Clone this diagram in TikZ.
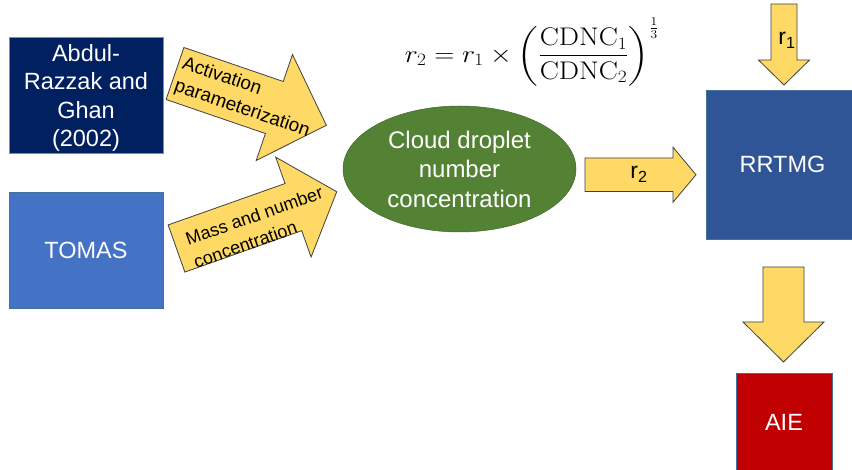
\documentclass[tikz,border=0pt]{standalone}
\usepackage{fontspec}
\usepackage{amsmath}
\newfontfamily\arial{Liberation Sans}
\usetikzlibrary{shapes.geometric}
\definecolor{navybox}{HTML}{002060}
\definecolor{tomasbox}{HTML}{4472C4}
\definecolor{rrtmgbox}{HTML}{2F5597}
\definecolor{aiebox}{HTML}{C00000}
\definecolor{cloudgreen}{HTML}{548235}
\definecolor{arrowfill}{HTML}{FFD966}
\definecolor{arrowline}{HTML}{404040}
\definecolor{boxline}{HTML}{41719C}
\definecolor{grayline}{HTML}{8C8C8C}
\begin{document}
\begin{tikzpicture}[x=1pt,y=1pt,
  box/.style={draw=boxline, line width=0.8pt, text=white, inner sep=0pt, outer sep=0pt,
    font=\arial\fontsize{23.5}{28.3}\selectfont, align=center},
  boxtext/.style={text=white, inner sep=0pt, font=\arial\fontsize{23.5}{28.3}\selectfont, align=center},
  blockarrow/.style={fill=arrowfill, draw=arrowline, line width=0.8pt, line join=miter},
  arrowtext/.style={text=black, inner sep=0pt, align=left, font=\arial\fontsize{19}{24}\selectfont},
  lbl/.style={text=black, inner sep=0pt, font=\arial\fontsize{23}{26}\selectfont}]
\useasboundingbox (0,0) rectangle (852,469);
\fill[white] (0,0) rectangle (852,469);

% left boxes
\node[box, fill=navybox, draw=grayline, minimum width=154, minimum height=116] (abdul) at (86,374) {};
\node[boxtext] (abdultext) at (86,371) {Abdul-\\Razzak and\\Ghan\\(2002)\hspace{6.5pt}};
\node[box, fill=tomasbox, minimum width=154, minimum height=116] (tomas) at (86,219) {TOMAS};

% activation arrow
\begin{scope}[shift={(175,395.5)}, rotate=-18.9]
  \draw[blockarrow] (0,27.5) -- (105,27.5) -- (105,56) -- (160,0) -- (105,-56) -- (105,-27.5) -- (0,-27.5) -- cycle;
  \node[arrowtext, anchor=west, rotate=-18.9] (actlbl) at (4,0) {Activation\\parameterization};
\end{scope}

% mass arrow
\begin{scope}[shift={(176.5,220.5)}, rotate=19.5]
  \draw[blockarrow] (0,25) -- (124,25) -- (124,53) -- (170,0) -- (124,-53) -- (124,-25) -- (0,-25) -- cycle;
  \node[arrowtext, font=\arial\fontsize{18}{24}\selectfont, anchor=west, rotate=19.5] (masslbl) at (12,-7) {Mass and number\\concentration};
\end{scope}

% ellipse
\node[ellipse, fill=cloudgreen, draw=cloudgreen!80!black, line width=0.5pt, minimum width=233, minimum height=126,
  inner sep=0pt, text=white, align=center, font=\arial\fontsize{24}{29.5}\selectfont] (cdnc) at (459.5,300)
  {Cloud droplet\\number\\concentration};

% formula
\node[inner sep=0pt, text=black, font=\fontsize{25.5}{30}\selectfont] (formula) at (532,417)
  {\scalebox{1.12}[1]{$\displaystyle r_2 = r_1 \times \left(\frac{\mathrm{CDNC}_1}{\mathrm{CDNC}_2}\right)^{\frac{1}{3}}$}};

% r2 arrow
\draw[blockarrow] (585,311) -- (673,311) -- (673,321.75) -- (696,294.25) -- (673,266.75) -- (673,277.5) -- (585,277.5) -- cycle;
\node[lbl] (rtwo) at (639,294.5) {r\textsubscript{2}};

% right boxes
\node[box, fill=rrtmgbox, minimum width=153, minimum height=149] (rrtmg) at (782.5,304.5) {RRTMG};
\node[box, fill=aiebox, minimum width=96, minimum height=99] (aie) at (784,46.5) {AIE};

% r1 arrow
\draw[blockarrow] (771,465) -- (771,409) -- (758.5,409) -- (784,384) -- (809.5,409) -- (797,409) -- (797,465) -- cycle;
\node[lbl] (rone) at (787,429) {r\textsubscript{1}};

% down arrow
\draw[blockarrow] (763,202) -- (763,147) -- (743,147) -- (783.5,107) -- (824,147) -- (804,147) -- (804,202) -- cycle;
\end{tikzpicture}
\end{document}
